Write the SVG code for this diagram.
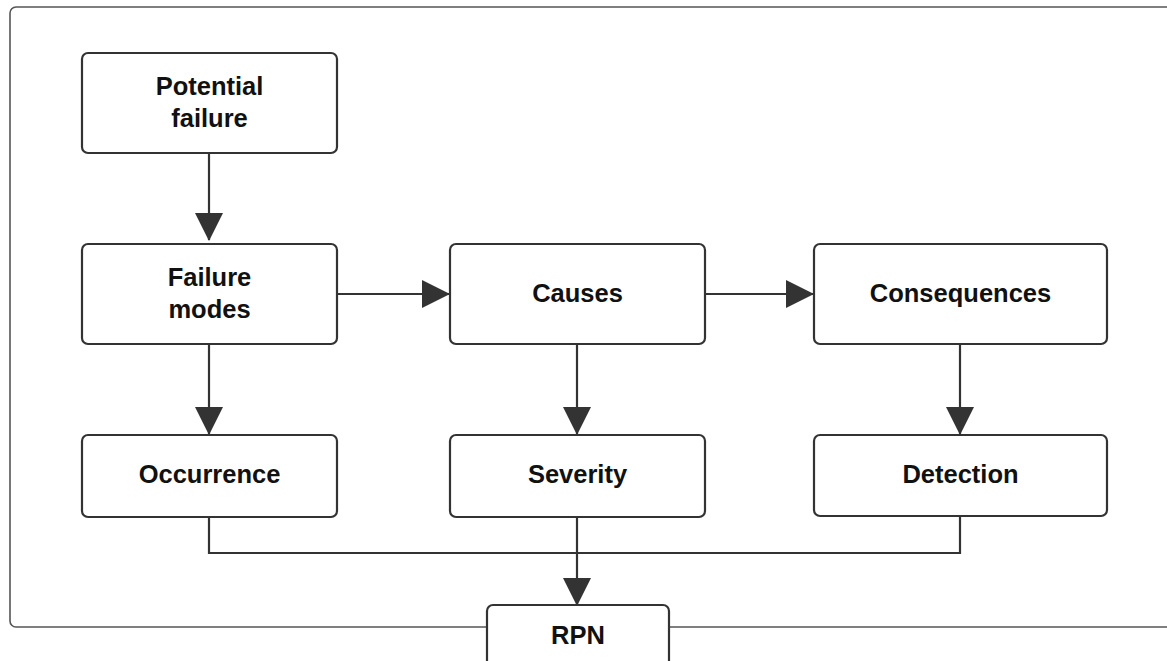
<svg xmlns="http://www.w3.org/2000/svg" width="1167" height="661" viewBox="0 0 1167 661">
<defs>
<style>
.node rect{fill:#fff;stroke:#333;stroke-width:2.2}
.node text{font-family:"Liberation Sans",Arial,sans-serif;font-weight:bold;font-size:25.5px;fill:#111;text-anchor:middle}
.conn path{fill:none;stroke:#333;stroke-width:2.2}
</style>
<marker id="arr" viewBox="0 0 28 28" refX="27" refY="14" markerWidth="28" markerHeight="28" markerUnits="userSpaceOnUse" orient="auto">
<path d="M0,0 L28,14 L0,28 Z" fill="#333"/>
</marker>
</defs>
<rect width="1167" height="661" fill="#fff"/>
<rect id="frame" x="10" y="7" width="1180" height="620" rx="6" fill="none" stroke="#555" stroke-width="1.6"/>
<g class="conn">
<path d="M209,153 V240" marker-end="url(#arr)"/>
<path d="M337,294 H449" marker-end="url(#arr)"/>
<path d="M705,294 H813" marker-end="url(#arr)"/>
<path d="M209,344 V434" marker-end="url(#arr)"/>
<path d="M577,345 V434" marker-end="url(#arr)"/>
<path d="M960,345 V434" marker-end="url(#arr)"/>
<path d="M209,517 V553 H960 V516"/>
<path d="M577,517 V605" marker-end="url(#arr)"/>
</g>
<g id="potential" class="node"><rect x="82" y="53" width="255" height="100" rx="6"/><text x="209.5" y="95">Potential</text><text x="209.5" y="127">failure</text></g>
<g id="modes" class="node"><rect x="82" y="244" width="255" height="100" rx="6"/><text x="209.5" y="286">Failure</text><text x="209.5" y="318">modes</text></g>
<g id="causes" class="node"><rect x="450" y="244" width="255" height="100" rx="6"/><text x="577.5" y="302">Causes</text></g>
<g id="consequences" class="node"><rect x="814" y="244" width="293" height="100" rx="6"/><text x="960.5" y="302">Consequences</text></g>
<g id="occurrence" class="node"><rect x="82" y="435" width="255" height="82" rx="6"/><text x="209.5" y="483">Occurrence</text></g>
<g id="severity" class="node"><rect x="450" y="435" width="255" height="82" rx="6"/><text x="577.5" y="483">Severity</text></g>
<g id="detection" class="node"><rect x="814" y="435" width="293" height="81" rx="6"/><text x="960.5" y="483">Detection</text></g>
<g id="rpn" class="node"><rect x="487" y="605" width="182" height="70" rx="6"/><text x="578" y="644">RPN</text></g>
</svg>
